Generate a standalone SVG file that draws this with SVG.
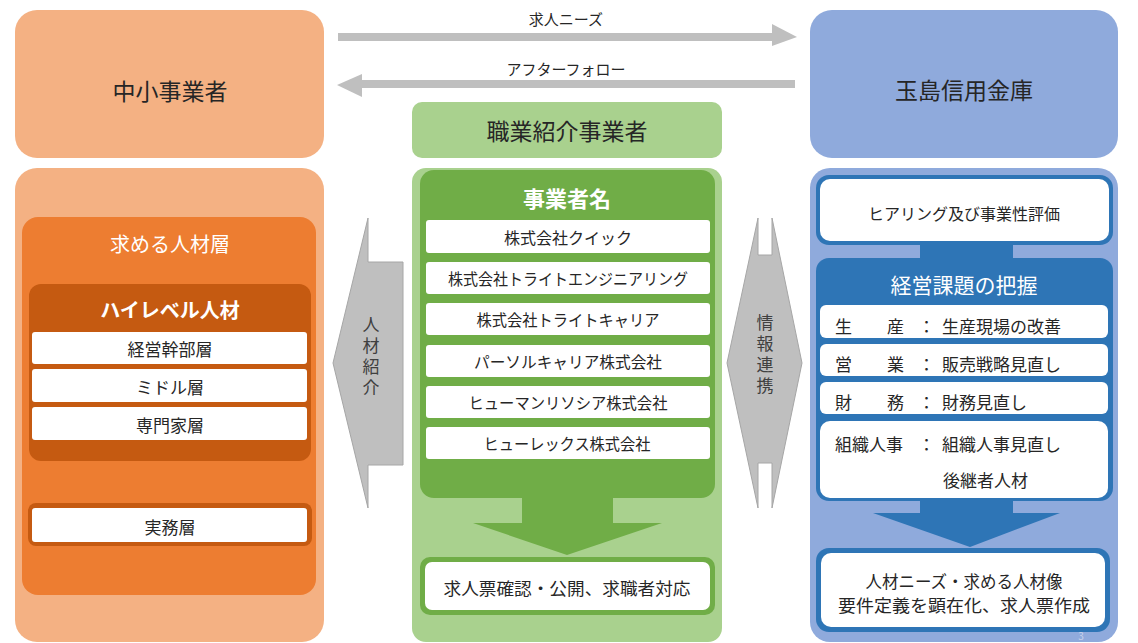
<svg xmlns="http://www.w3.org/2000/svg" width="1138" height="643" viewBox="0 0 1138 643">
<defs>
<style>
text{font-family:"Noto Sans CJK JP","Noto Sans",sans-serif;text-anchor:middle;dominant-baseline:central;fill:#262626}
.big{font-size:23px}
.hd{font-size:20px;fill:#fff;font-weight:bold}
.row{font-size:16px}
.rt{font-size:17px;text-anchor:start}
.lbl{font-size:15px}
.vt{font-size:17px;fill:#404040;writing-mode:tb;letter-spacing:4px}
.lo{fill:#F4B183}.o{fill:#ED7D31}.do{fill:#C55A11}
.lg{fill:#A9D18E}.g{fill:#70AD47}
.lb{fill:#8FAADC}.b{fill:#2E75B6}
.w{fill:#fff}
.gray{fill:#BFBFBF;stroke:#A6A6A6;stroke-width:1}
</style>
</defs>

<g id="connectors">
<g id="arrow-needs">
<rect x="338" y="33" width="436" height="8" fill="#BFBFBF"/>
<polygon points="772,24 797,37 772,46" fill="#BFBFBF"/>
<text class="lbl" x="566" y="18">求人ニーズ</text>
</g>
<g id="arrow-follow">
<rect x="361" y="80" width="434" height="8" fill="#BFBFBF"/>
<polygon points="362,74 337,85 362,97" fill="#BFBFBF"/>
<text class="lbl" x="566" y="68">アフターフォロー</text>
</g>
<g id="arrow-shokai">
<polygon class="gray" points="368,218 368,262 403,262 403,465 368,465 368,508 333,363"/>
<text class="vt" x="371" y="358">人材紹介</text>
</g>
<g id="arrow-renkei">
<polygon class="gray" points="758,218 758,255 772,255 772,218 802,363 772,508 772,463 758,463 758,508 727,363"/>
<text class="vt" x="765" y="356">情報連携</text>
</g>
</g>

<g id="chusho">
<rect class="lo" x="15" y="10" width="309" height="148" rx="22"/>
<text class="big" x="170" y="90">中小事業者</text>
</g>

<g id="jinzai-panel">
<rect class="lo" x="15" y="168" width="309" height="474" rx="22"/>
<rect class="o" x="22" y="217" width="294" height="378" rx="16"/>
<text class="hd" x="170" y="243" style="font-weight:normal">求める人材層</text>
<g id="highlevel">
<rect class="do" x="29" y="284" width="282" height="177" rx="12"/>
<text class="hd" x="170" y="309">ハイレベル人材</text>
<rect class="w" x="32" y="332" width="275" height="32" rx="3"/>
<text class="row" x="170" y="348" style="font-size:17px">経営幹部層</text>
<rect class="w" x="32" y="369" width="275" height="33" rx="3"/>
<text class="row" x="170" y="386" style="font-size:17px">ミドル層</text>
<rect class="w" x="32" y="407" width="275" height="33" rx="3"/>
<text class="row" x="170" y="424" style="font-size:17px">専門家層</text>
</g>
<g id="jitsumu">
<rect class="do" x="28" y="503" width="284" height="43" rx="8"/>
<rect class="w" x="32" y="508" width="275" height="34" rx="3"/>
<text class="row" x="170" y="526" style="font-size:17px">実務層</text>
</g>
</g>

<g id="shokugyo">
<rect class="lg" x="412" y="102" width="310" height="56" rx="10"/>
<text class="big" x="567" y="130">職業紹介事業者</text>
</g>

<g id="shokugyo-panel">
<rect class="lg" x="412" y="168" width="310" height="474" rx="14"/>
<rect class="g" x="420" y="170" width="295" height="328" rx="14"/>
<text class="hd" x="567" y="197" style="font-size:22px">事業者名</text>
<rect class="w" x="426" y="220" width="284" height="33" rx="3"/>
<text class="row" x="568" y="237">株式会社クイック</text>
<rect class="w" x="426" y="262" width="284" height="32" rx="3"/>
<text class="row" x="568" y="278" textLength="240" lengthAdjust="spacingAndGlyphs">株式会社トライトエンジニアリング</text>
<rect class="w" x="426" y="303" width="284" height="32" rx="3"/>
<text class="row" x="568" y="319" textLength="183" lengthAdjust="spacingAndGlyphs">株式会社トライトキャリア</text>
<rect class="w" x="426" y="345" width="284" height="32" rx="3"/>
<text class="row" x="568" y="361" textLength="188" lengthAdjust="spacingAndGlyphs">パーソルキャリア株式会社</text>
<rect class="w" x="426" y="386" width="284" height="32" rx="3"/>
<text class="row" x="568" y="402" textLength="199" lengthAdjust="spacingAndGlyphs">ヒューマンリソシア株式会社</text>
<rect class="w" x="426" y="427" width="284" height="32" rx="3"/>
<text class="row" x="567" y="443" textLength="167" lengthAdjust="spacingAndGlyphs">ヒューレックス株式会社</text>
<polygon class="g" points="522,497 613,497 613,523 662,523 567,555 473,523 522,523"/>
<rect class="g" x="420" y="557" width="295" height="58" rx="10"/>
<rect class="w" x="425" y="562" width="285" height="48" rx="7"/>
<text x="567" y="587" style="font-size:17px" textLength="247" lengthAdjust="spacingAndGlyphs">求人票確認・公開、求職者対応</text>
</g>

<g id="tamashima">
<rect class="lb" x="810" y="10" width="308" height="148" rx="22"/>
<text class="big" x="964" y="89">玉島信用金庫</text>
</g>

<g id="shinkin-panel">
<rect class="lb" x="810" y="168" width="308" height="474" rx="20"/>
<rect class="b" x="816" y="175" width="297" height="70" rx="13"/>
<rect class="w" x="820" y="179" width="289" height="62" rx="10"/>
<text x="964" y="213" style="font-size:16px">ヒアリング及び事業性評価</text>
<rect class="b" x="920" y="243" width="93" height="18"/>
<rect class="b" x="816" y="258" width="297" height="243" rx="13"/>
<text class="hd" x="964" y="284" style="font-size:21px;font-weight:normal">経営課題の把握</text>
<rect class="w" x="820" y="305" width="288" height="33" rx="6"/>
<rect class="w" x="820" y="344" width="288" height="32" rx="6"/>
<rect class="w" x="820" y="382" width="288" height="32" rx="6"/>
<rect class="w" x="820" y="421" width="288" height="77" rx="10"/>
<text class="rt" x="835" y="325">生</text><text class="rt" x="887" y="325">産</text><text class="rt" x="918" y="325">：</text><text class="rt" x="942" y="325">生産現場の改善</text>
<text class="rt" x="835" y="363">営</text><text class="rt" x="887" y="363">業</text><text class="rt" x="918" y="363">：</text><text class="rt" x="942" y="363">販売戦略見直し</text>
<text class="rt" x="835" y="401">財</text><text class="rt" x="887" y="401">務</text><text class="rt" x="918" y="401">：</text><text class="rt" x="942" y="401">財務見直し</text>
<text class="rt" x="835" y="443">組織人事</text><text class="rt" x="918" y="443">：</text><text class="rt" x="942" y="443">組織人事見直し</text>
<text class="rt" x="943" y="479">後継者人材</text>
<polygon class="b" points="920,498 1013,498 1013,513 1060,513 970,547 873,513 920,513"/>
<rect class="b" x="816" y="548" width="294" height="84" rx="13"/>
<rect class="w" x="821" y="553" width="284" height="74" rx="10"/>
<text x="964" y="580" style="font-size:17px" textLength="197" lengthAdjust="spacingAndGlyphs">人材ニーズ・求める人材像</text>
<text x="964" y="604" style="font-size:17px" textLength="252" lengthAdjust="spacingAndGlyphs">要件定義を顕在化、求人票作成</text>
<text x="1081" y="635" style="font-size:10px;fill:#C8D2EA">3</text>
</g>
</svg>
